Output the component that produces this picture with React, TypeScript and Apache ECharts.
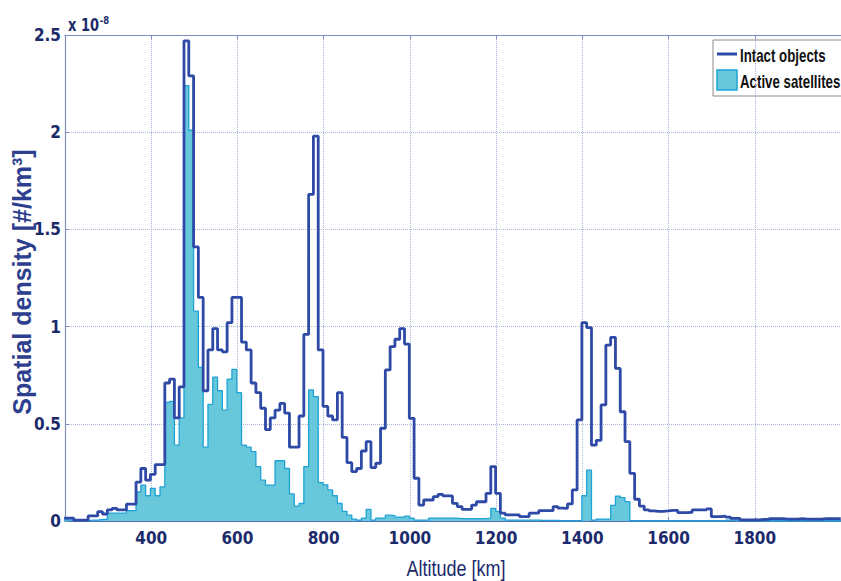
import React, { useEffect, useRef } from "react";
import * as echarts from "echarts";

// Histogram bins (km): left edge of first bin and bin width
const BIN_START_KM = 198;
const BIN_WIDTH_KM = 11.12;
const X_MIN = 200;
const X_MAX = 2000;
const xTickLabels = [400, 600, 800, 1000, 1200, 1400, 1600, 1800];
const yTickLabels = [0, 0.5, 1, 1.5, 2, 2.5];

// Spatial density, units of 1e-8 #/km^3, one value per bin
const intactObjects = [
  0.015, 0.015, 0.004, 0.004, 0.004, 0.026, 0.026, 0.048, 0.036, 0.057,
  0.065, 0.057, 0.057, 0.087, 0.087, 0.2, 0.27, 0.21, 0.24, 0.29,
  0.29, 0.71, 0.73, 0.53, 0.69, 2.47, 2.29, 1.41, 1.15, 0.67,
  0.88, 0.99, 0.88, 0.87, 1.02, 1.15, 1.15, 0.92, 0.88, 0.71,
  0.66, 0.58, 0.47, 0.53, 0.57, 0.605, 0.555, 0.38, 0.38, 0.54,
  0.96, 1.68, 1.98, 0.88, 0.59, 0.54, 0.52, 0.66, 0.43, 0.3,
  0.254, 0.27, 0.36, 0.408, 0.275, 0.297, 0.477, 0.777, 0.897, 0.935,
  0.99, 0.91, 0.528, 0.22, 0.082, 0.108, 0.108, 0.125, 0.137, 0.129,
  0.129, 0.091, 0.074, 0.06, 0.06, 0.082, 0.099, 0.099, 0.142, 0.28,
  0.142, 0.04, 0.031, 0.031, 0.031, 0.022, 0.022, 0.04, 0.04, 0.053,
  0.053, 0.053, 0.074, 0.066, 0.065, 0.088, 0.16, 0.52, 1.02, 0.995,
  0.39, 0.415, 0.597, 0.905, 0.945, 0.785, 0.562, 0.408, 0.245, 0.112,
  0.077, 0.057, 0.052, 0.05, 0.05, 0.052, 0.055, 0.055, 0.043, 0.043,
  0.045, 0.057, 0.057, 0.057, 0.062, 0.022, 0.022, 0.025, 0.02, 0.013,
  0.013, 0.006, 0.006, 0.006, 0.006, 0.008, 0.008, 0.012, 0.012, 0.012,
  0.01, 0.01, 0.01, 0.012, 0.01, 0.01, 0.01, 0.01, 0.012, 0.012,
  0.012, 0.012,
];

const activeSatellites = [
  0.006, 0.004, 0.002, 0.002, 0.002, 0.005, 0.005, 0.008, 0.008, 0.04,
  0.04, 0.04, 0.04, 0.053, 0.053, 0.15, 0.185, 0.13, 0.168, 0.13,
  0.176, 0.61, 0.615, 0.39, 0.53, 2.24, 2.01, 1.08, 0.79, 0.38,
  0.6, 0.74, 0.67, 0.57, 0.73, 0.78, 0.66, 0.39, 0.38, 0.357,
  0.28, 0.21, 0.185, 0.185, 0.31, 0.31, 0.27, 0.14, 0.077, 0.09,
  0.28, 0.674, 0.64, 0.197, 0.186, 0.16, 0.13, 0.09, 0.05, 0.03,
  0.01, 0.005, 0.015, 0.06, 0.005, 0.015, 0.015, 0.03, 0.028, 0.02,
  0.02, 0.025, 0.015, 0.005, 0.005, 0.005, 0.015, 0.015, 0.015, 0.015,
  0.015, 0.015, 0.012, 0.012, 0.012, 0.012, 0.012, 0.012, 0.015, 0.065,
  0.05, 0.015, 0.005, 0.005, 0.005, 0.005, 0.005, 0.005, 0.005, 0.003,
  0.003, 0.003, 0.003, 0, 0, 0, 0, 0, 0.13, 0.262,
  0.004, 0.01, 0.01, 0.01, 0.08, 0.128, 0.12, 0.1, 0, 0,
  0, 0, 0, 0, 0, 0, 0, 0, 0, 0,
  0, 0, 0, 0, 0, 0, 0, 0, 0.004, 0.004,
  0.004, 0, 0, 0, 0, 0, 0, 0, 0, 0,
  0, 0, 0, 0, 0, 0, 0, 0, 0, 0,
  0, 0,
];

const NARROW = '"Liberation Sans Narrow", "DejaVu Sans Condensed", "Roboto Condensed", sans-serif';
const SANS = '"Liberation Sans", Arial, "DejaVu Sans", sans-serif';
const INTACT_COLOR = "#2e4aa6";
const ACTIVE_FILL = "#66c8da";
const ACTIVE_LINE = "#1fa2d6";
const LABEL_COLOR = "#1b2a6b";

function stepData(values: number[]) {
  const pts: number[][] = values.map((v, i) => [BIN_START_KM + i * BIN_WIDTH_KM, v]);
  pts.push([BIN_START_KM + values.length * BIN_WIDTH_KM, values[values.length - 1]]);
  return pts;
}

export default function App() {
  const ref = useRef<HTMLDivElement>(null);

  useEffect(() => {
    if (!ref.current) return;
    const chart = echarts.init(ref.current, null, { renderer: "svg" });
    const option: any = {
      animation: false,
      backgroundColor: "#ffffff",
      grid: { left: 65, top: 35, right: 0, bottom: 60, containLabel: false, outerBoundsMode: "none" },
      xAxis: [
        {
          type: "value",
          min: X_MIN,
          max: X_MAX,
          interval: 200,
          axisLine: { show: true, lineStyle: { color: INTACT_COLOR, width: 1.5 } },
          axisTick: { show: true, inside: true, length: 4, lineStyle: { color: "#7f8cc0" } },
          axisLabel: {
            margin: 8,
            fontFamily: NARROW,
            fontWeight: "bold",
            fontSize: 17,
            color: LABEL_COLOR,
            formatter: (v: number) => (xTickLabels.includes(v) ? String(v) : ""),
          },
          splitLine: { show: true, lineStyle: { type: "dotted", color: "#a9b6d6", width: 1 } },
        },
        {
          type: "value",
          position: "top",
          min: X_MIN,
          max: X_MAX,
          interval: 200,
          axisLine: { show: true, lineStyle: { color: "#7f8cc0", width: 1.2 } },
          axisTick: { show: true, inside: true, length: 4, lineStyle: { color: "#7f8cc0" } },
          axisLabel: { show: false },
          splitLine: { show: false },
        },
      ],
      yAxis: {
        type: "value",
        min: 0,
        max: 2.5,
        interval: 0.5,
        axisLine: { show: true, lineStyle: { color: "#7f8cc0", width: 1.2 } },
        axisTick: { show: true, inside: true, length: 4, lineStyle: { color: "#7f8cc0" } },
        axisLabel: {
          margin: 4,
          fontFamily: NARROW,
          fontWeight: "bold",
          fontSize: 17,
          color: LABEL_COLOR,
          formatter: (v: number) => {
            const hit = yTickLabels.find((t) => Math.abs(t - v) < 1e-9);
            return hit === undefined ? "" : String(hit);
          },
        },
        splitLine: { show: true, lineStyle: { type: "dotted", color: "#a9b6d6", width: 1 } },
      },
      series: [
        {
          name: "Active satellites",
          type: "line",
          step: "end",
          symbol: "none",
          data: stepData(activeSatellites),
          lineStyle: { color: ACTIVE_LINE, width: 1.3 },
          areaStyle: { color: ACTIVE_FILL, opacity: 1 },
          z: 2,
        },
        {
          name: "Intact objects",
          type: "line",
          step: "end",
          symbol: "none",
          data: stepData(intactObjects),
          lineStyle: { color: INTACT_COLOR, width: 2.8 },
          z: 3,
        },
      ],
      graphic: [
        {
          type: "text",
          x: 68,
          y: 36,
          scaleX: 0.85,
          style: {
            text: "{b|x 10}{s|-8}",
            verticalAlign: "bottom",
            rich: {
              b: { fontFamily: NARROW, fontSize: 17, fontWeight: "bold", fill: LABEL_COLOR },
              s: { fontFamily: NARROW, fontSize: 11, fontWeight: "bold", fill: LABEL_COLOR, padding: [0, 0, 10, 1] },
            },
          },
          z: 10,
        },
        {
          type: "text",
          x: 456,
          y: 568,
          scaleX: 0.82,
          style: {
            text: "Altitude [km]",
            fontFamily: SANS,
            fontSize: 22,
            fill: LABEL_COLOR,
            align: "center",
            verticalAlign: "middle",
          },
          z: 10,
        },
        {
          type: "text",
          x: 22,
          y: 282,
          rotation: Math.PI / 2,
          style: {
            text: "Spatial density [#/km³]",
            fontFamily: SANS,
            fontWeight: "bold",
            fontSize: 25,
            fill: "#2d3f8e",
            align: "center",
            verticalAlign: "middle",
          },
          z: 10,
        },
        {
          type: "group",
          x: 713,
          y: 40,
          z: 20,
          children: [
            { type: "rect", shape: { x: 0, y: 0, width: 140, height: 56 }, style: { fill: "#ffffff", stroke: "#8a8a8a", lineWidth: 1 } },
            { type: "line", shape: { x1: 4, y1: 14, x2: 24, y2: 14 }, style: { stroke: INTACT_COLOR, lineWidth: 3 } },
            { type: "text", x: 27, y: 15, scaleX: 0.7, style: { text: "Intact objects", fontFamily: SANS, fontWeight: "bold", fontSize: 19, fill: "#111111", verticalAlign: "middle" } },
            { type: "rect", shape: { x: 4, y: 30, width: 20, height: 20 }, style: { fill: ACTIVE_FILL, stroke: ACTIVE_LINE, lineWidth: 1.5 } },
            { type: "text", x: 27, y: 41, scaleX: 0.7, style: { text: "Active satellites", fontFamily: SANS, fontWeight: "bold", fontSize: 19, fill: "#111111", verticalAlign: "middle" } },
          ],
        },
      ],
    };
    chart.setOption(option);
    return () => chart.dispose();
  }, []);

  return (
    <div
      ref={ref}
      style={{ position: "fixed", left: 0, top: 0, width: 841, height: 581, background: "#fff" }}
    />
  );
}
